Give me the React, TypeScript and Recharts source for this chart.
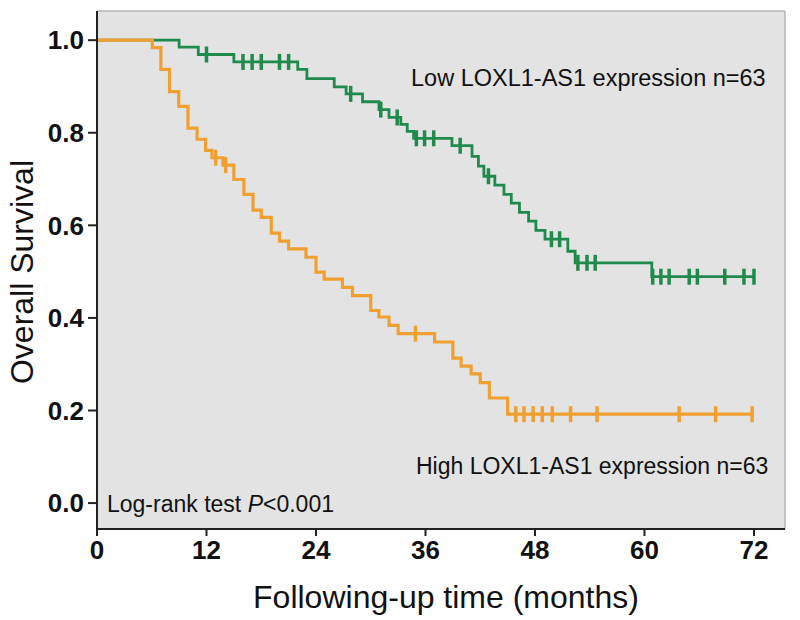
import { CartesianGrid, ComposedChart, Line, ReferenceLine, Scatter, XAxis, YAxis } from 'recharts';

// Kaplan-Meier steps (months, survival)
const lowTimes = [0, 9.0, 11.1, 15.0, 22.0, 23.0, 26.0, 27.3, 29.1, 30.9, 32.0, 33.3, 34.0, 34.7, 38.9, 41.1, 41.8, 42.4, 43.6, 44.6, 45.4, 46.3, 47.3, 48.1, 49.1, 51.6, 52.4, 60.8, 72.0];
const lowSurv = [1.0, 0.985, 0.969, 0.953, 0.937, 0.917, 0.899, 0.884, 0.867, 0.85, 0.833, 0.818, 0.803, 0.788, 0.772, 0.749, 0.728, 0.706, 0.687, 0.667, 0.648, 0.628, 0.609, 0.589, 0.57, 0.544, 0.519, 0.489, 0.489];
const lowCensor = [12.0, 16.0, 17.0, 18.0, 20.0, 21.0, 27.8, 31.1, 32.9, 35.0, 35.9, 36.9, 39.8, 42.9, 49.8, 50.7, 52.7, 53.7, 54.6, 60.9, 61.8, 62.7, 64.9, 65.8, 68.8, 70.9, 72.0];

const highTimes = [0, 6.06, 7.0, 7.95, 8.96, 9.97, 10.96, 11.9, 12.6, 13.8, 15.0, 16.1, 17.1, 18.0, 19.1, 20.0, 21.0, 22.9, 24.0, 24.9, 26.9, 28.0, 30.0, 30.9, 32.0, 33.0, 37.0, 39.0, 39.9, 41.0, 42.0, 43.0, 45.0, 72.0];
const highSurv = [1.0, 0.984, 0.937, 0.889, 0.857, 0.81, 0.786, 0.762, 0.746, 0.73, 0.699, 0.667, 0.633, 0.617, 0.583, 0.566, 0.549, 0.531, 0.499, 0.484, 0.466, 0.448, 0.416, 0.402, 0.384, 0.366, 0.348, 0.313, 0.296, 0.279, 0.26, 0.227, 0.192, 0.192];
const highCensor = [13.0, 14.1, 34.9, 45.9, 46.8, 47.8, 48.8, 49.9, 51.9, 54.8, 63.8, 67.8, 71.8];

const xTicks = [0, 12, 24, 36, 48, 60, 72];
const yTicks = [0, 0.2, 0.4, 0.6, 0.8, 1.0];

const GREEN = '#1f8a4c';
const ORANGE = '#f0a030';
const FONT = '"Liberation Sans", Arial, Helvetica, sans-serif';

const toSteps = (ts: number[], ss: number[]) => ts.map((t, i) => ({ t, s: ss[i] }));

// survival level at a censor time = last step at or before it
const levelAt = (ts: number[], ss: number[], t: number) => {
  let v = ss[0];
  for (let i = 0; i < ts.length; i++) if (ts[i] <= t) v = ss[i];
  return v;
};
const toCensors = (cs: number[], ts: number[], ss: number[]) => cs.map((t) => ({ t, s: levelAt(ts, ss, t) }));

const lowSteps = toSteps(lowTimes, lowSurv);
const highSteps = toSteps(highTimes, highSurv);
const lowMarks = toCensors(lowCensor, lowTimes, lowSurv);
const highMarks = toCensors(highCensor, highTimes, highSurv);

const tick = (color: string) => (props: any) => (
  <line x1={props.cx} x2={props.cx} y1={props.cy - 8} y2={props.cy + 8} stroke={color} strokeWidth={3.5} />
);

export default function App() {
  return (
    <div style={{ position: 'absolute', left: 0, top: 0, background: '#fff' }}>
      <ComposedChart width={800} height={620} margin={{ top: 11, right: 15, bottom: 0, left: 0 }}>
        <CartesianGrid horizontal={false} vertical={false} fill="#e3e3e3" />
        <ReferenceLine y={1.063} stroke="#b5b5b5" strokeWidth={1.5} />
        <ReferenceLine x={75.4} stroke="#b5b5b5" strokeWidth={1.5} />
        <XAxis
          type="number"
          dataKey="t"
          domain={[0, 75.4]}
          ticks={xTicks}
          allowDataOverflow
          height={91}
          tickSize={7}
          tickMargin={5}
          stroke="#222"
          strokeWidth={2}
          tick={{ fontSize: 26, fontWeight: 'bold', fill: '#111', fontFamily: FONT }}
        />
        <YAxis
          type="number"
          dataKey="s"
          domain={[-0.056, 1.063]}
          ticks={yTicks}
          allowDataOverflow
          width={97}
          tickSize={9}
          tickMargin={4}
          stroke="#222"
          strokeWidth={2}
          tickFormatter={(v: number) => v.toFixed(1)}
          tick={{ fontSize: 26, fontWeight: 'bold', fill: '#111', fontFamily: FONT }}
        />
        <Line data={lowSteps} dataKey="s" type="stepAfter" stroke={GREEN} strokeWidth={2.8} dot={false} isAnimationActive={false} />
        <Scatter data={lowMarks} dataKey="s" fill={GREEN} shape={tick(GREEN)} isAnimationActive={false} />
        <Line data={highSteps} dataKey="s" type="stepAfter" stroke={ORANGE} strokeWidth={3.2} dot={false} isAnimationActive={false} />
        <Scatter data={highMarks} dataKey="s" fill={ORANGE} shape={tick(ORANGE)} isAnimationActive={false} />
        <text x={411} y={86} fontSize={23.5} fontFamily={FONT} fill="#111">Low LOXL1-AS1 expression n=63</text>
        <text x={416} y={474} fontSize={23} fontFamily={FONT} fill="#111">High LOXL1-AS1 expression n=63</text>
        <text x={107} y={512} fontSize={23} fontFamily={FONT} fill="#111">
          Log-rank test <tspan fontStyle="italic">P</tspan>&lt;0.001
        </text>
        <text x={446} y={608} fontSize={32} fontFamily={FONT} fill="#111" textAnchor="middle">Following-up time (months)</text>
        <text x={0} y={0} fontSize={32} fontFamily={FONT} fill="#111" textAnchor="middle" transform="translate(33,272) rotate(-90)">Overall Survival</text>
      </ComposedChart>
    </div>
  );
}
